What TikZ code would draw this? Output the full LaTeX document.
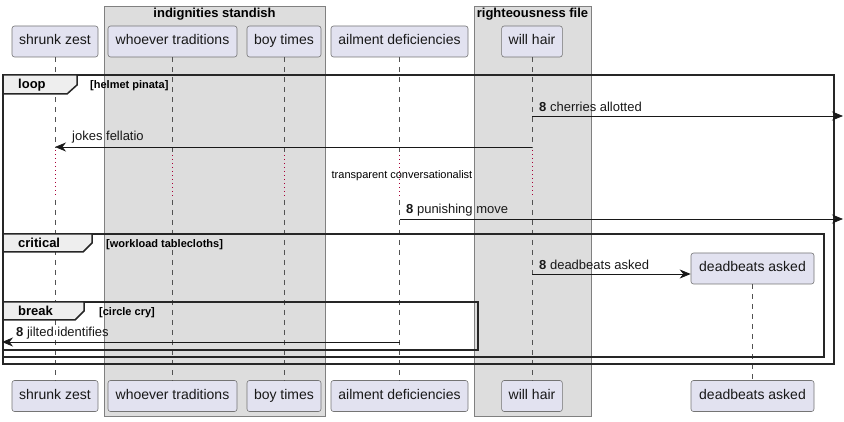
\documentclass[tikz,border=0pt]{standalone}
\usepackage{fontspec}
\setmainfont{Liberation Sans}
\usetikzlibrary{arrows.meta, positioning, calc}
\definecolor{partfill}{RGB}{226,226,240}
\definecolor{partline}{RGB}{24,24,24}
\definecolor{boxfill}{RGB}{221,221,221}
\definecolor{boxline}{RGB}{128,128,128}
\definecolor{tabfill}{RGB}{238,238,238}
\definecolor{delayred}{RGB}{168,0,54}
\tikzset{
  part/.style={
    draw=partline!60,
    fill=partfill,
    rounded corners=2.5pt,
    line width=0.6pt,
    minimum height=31pt,
    inner xsep=7pt,
    inner ysep=0pt,
    text height=10pt,
    text depth=3pt,
    font=\fontsize{14}{16}\selectfont,
    text=partline
  },
  groupbox/.style={draw=boxline, fill=boxfill, line width=0.6pt},
  grouptitle/.style={font=\fontsize{13}{15}\selectfont\bfseries, inner sep=0pt},
  lifeline/.style={draw=partline!75, line width=0.6pt, dash pattern=on 5pt off 5pt},
  delayline/.style={draw=delayred, line width=0.8pt, dash pattern=on 1pt off 3pt},
  msg/.style={-{Stealth[length=11pt, width=9pt, inset=3.5pt]}, line width=0.8pt, draw=partline},
  msgtext/.style={font=\fontsize{13}{15}\selectfont, inner sep=0pt, anchor=base west, text=partline},
  frame/.style={draw=black!85, line width=1.5pt},
  tab/.style={draw=black!85, line width=1.5pt, fill=tabfill},
  tablabel/.style={font=\fontsize{13}{15}\selectfont\bfseries, inner sep=0pt, anchor=base west},
  guard/.style={font=\fontsize{11}{13}\selectfont\bfseries, inner sep=0pt, anchor=base west},
  delaytext/.style={font=\fontsize{11}{13}\selectfont, inner sep=0pt}
}

\begin{document}
\begin{tikzpicture}[x=1pt, y=-1pt]
        \useasboundingbox (0,0) rectangle (844,422);

        % participant groups
        \draw[groupbox] (104,6) rectangle (325,416);
        \draw[groupbox] (474,6) rectangle (591,416);
        \node[grouptitle] (gIndig) at (214.5,14) {indignities standish};
        \node[grouptitle] (gRight) at (532.5,14) {righteousness file};

        % heads and feet
        \node[part, minimum width=86pt] (szT) at (55,41.5) {shrunk zest};
        \node[part, minimum width=129pt] (wtT) at (172.5,41.5) {whoever traditions};
        \node[part, minimum width=74pt] (btT) at (284,41.5) {boy times};
        \node[part, minimum width=137pt] (adT) at (399.5,41.5) {ailment deficiencies};
        \node[part, minimum width=60pt] (whT) at (532,41.5) {will hair};

        \node[part, minimum width=86pt] (szB) at (55,396) {shrunk zest};
        \node[part, minimum width=129pt] (wtB) at (172.5,396) {whoever traditions};
        \node[part, minimum width=74pt] (btB) at (284,396) {boy times};
        \node[part, minimum width=137pt] (adB) at (399.5,396) {ailment deficiencies};
        \node[part, minimum width=60pt] (whB) at (532,396) {will hair};
        \node[part, minimum width=123pt] (daM) at (752.5,268.5) {deadbeats asked};
        \node[part, minimum width=123pt] (daB) at (752.5,396) {deadbeats asked};

        % lifelines
        \draw[lifeline] (szT.south) -- (szT.south |- 0,148)
                        (wtT.south) -- (wtT.south |- 0,153)
                        (btT.south) -- (btT.south |- 0,153)
                        (adT.south) -- (adT.south |- 0,153)
                        (whT.south) -- (whT.south |- 0,148);
        \draw[delayline] (szT.south |- 0,150) -- (szT.south |- 0,198)
                         (wtT.south |- 0,155) -- (wtT.south |- 0,198)
                         (btT.south |- 0,155) -- (btT.south |- 0,198)
                         (adT.south |- 0,155) -- (adT.south |- 0,198)
                         (whT.south |- 0,150) -- (whT.south |- 0,198);
        \draw[lifeline] (szT.south |- 0,200) -- (szB.north)
                        (wtT.south |- 0,200) -- (wtB.north)
                        (btT.south |- 0,200) -- (btB.north)
                        (adT.south |- 0,200) -- (adB.north)
                        (whT.south |- 0,200) -- (whB.north)
                        (daM.south) -- (daB.north);

        % loop
        \draw[frame] (3,75) rectangle (834,364);
        \draw[tab] (3,75) -- (77,75) -- (77,85) -- (67,94) -- (3,94) -- cycle;
        \node[tablabel] (lLoop) at (18,89) {loop};
        \node[guard] (gLoop) at (90,89) {[helmet pinata]};

        \coordinate (outR1) at (843,116);
        \draw[msg] (whT.south |- outR1) -- (outR1);
        \node[msgtext] (m1) at (539,112) {\textbf{8} cherries allotted};

        \draw[msg] (whT.south |- 0,147) -- (szT.south |- 0,147);
        \node[msgtext] (m2) at (72,141) {jokes fellatio};

        \node[delaytext] (dly) at (402,176) {transparent conversationalist};

        \coordinate (outR2) at (843,219);
        \draw[msg] (adT.south |- outR2) -- (outR2);
        \node[msgtext] (m3) at (406,214) {\textbf{8} punishing move};

        % critical
        \draw[frame] (3,234) rectangle (824,357);
        \draw[tab] (3,234) -- (92,234) -- (92,243) -- (83,252) -- (3,252) -- cycle;
        \node[tablabel] (lCrit) at (18,247.5) {critical};
        \node[guard] (gCrit) at (106,247.5) {[workload tablecloths]};

        \draw[msg] (whT.south |- 0,274) -- (daM.west |- 0,274);
        \node[msgtext] (m4) at (539,270) {\textbf{8} deadbeats asked};

        % break
        \draw[frame] (3,302) rectangle (478,350);
        \draw[tab] (3,302) -- (84,302) -- (84,311) -- (75,320) -- (3,320) -- cycle;
        \node[tablabel] (lBrk) at (18,315.5) {break};
        \node[guard] (gBrk) at (99,315.5) {[circle cry]};

        \coordinate (outL1) at (2,342);
        \draw[msg] (adT.south |- outL1) -- (outL1);
        \node[msgtext] (m5) at (16,337) {\textbf{8} jilted identifies};
      \end{tikzpicture}
\end{document}
